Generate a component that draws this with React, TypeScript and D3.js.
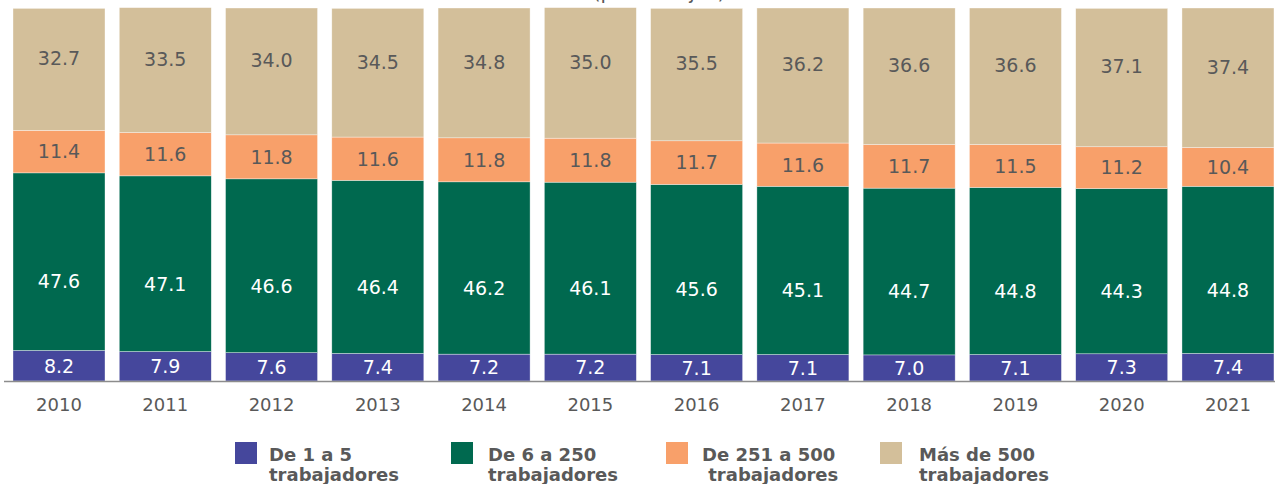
import React from "react";
import * as d3 from "d3";

const years = ["2010","2011","2012","2013","2014","2015","2016","2017","2018","2019","2020","2021"];
const de1a5 = [8.2, 7.9, 7.6, 7.4, 7.2, 7.2, 7.1, 7.1, 7.0, 7.1, 7.3, 7.4];
const de6a250 = [47.6, 47.1, 46.6, 46.4, 46.2, 46.1, 45.6, 45.1, 44.7, 44.8, 44.3, 44.8];
const de251a500 = [11.4, 11.6, 11.8, 11.6, 11.8, 11.8, 11.7, 11.6, 11.7, 11.5, 11.2, 10.4];
const mas500 = [32.7, 33.5, 34.0, 34.5, 34.8, 35.0, 35.5, 36.2, 36.6, 36.6, 37.1, 37.4];

const seriesNames = ["De 1 a 5 trabajadores", "De 6 a 250 trabajadores", "De 251 a 500 trabajadores", "Más de 500 trabajadores"];
const legendLine1 = ["De 1 a 5", "De 6 a 250", "De 251 a 500", "Más de 500"];
const legendLine2 = ["trabajadores", "trabajadores", "\u00a0trabajadores", "trabajadores"];
const title = "(porcentajes)";

const colors = ["#45479c", "#00694f", "#f8a06a", "#d3bf9a"];
const labelColors = ["#ffffff", "#ffffff", "#595959", "#595959"];
const labelOffsets = [0, 20, 0, -11];

const W = 1284, H = 484;
const FONT = "'DejaVu Sans', sans-serif";

export default function App() {
  const keys = ["a", "b", "c", "d"];
  const rows = years.map((y, i) => ({
    year: y,
    a: de1a5[i],
    b: de6a250[i],
    c: de251a500[i],
    d: mas500[i],
  }));
  const stack = d3.stack<any>().keys(keys)(rows);

  const x = d3
    .scaleBand<string>()
    .domain(years)
    .range([5.87, 1281.1])
    .paddingInner(0.1343)
    .paddingOuter(0.0671);
  const y = d3.scaleLinear().domain([0, 100]).range([381, 8]);
  const fmt = d3.format(".1f");

  const legendSquareX = [235, 451, 666, 880];
  const legendTextX = [269, 488, 702, 919];

  return (
    <svg
      width={W}
      height={H}
      style={{ position: "absolute", left: 0, top: 0, background: "#fff" }}
      fontFamily={FONT}
    >
      <text x={659} y={-1} textAnchor="middle" fontSize={20} fill="#595959">
        {title}
      </text>
      {stack.map((s, si) => (
        <g key={si} fill={colors[si]}>
          {s.map((d: any, i: number) => (
            <rect
              key={i}
              x={x(years[i])}
              width={x.bandwidth()}
              y={y(d[1])}
              height={y(d[0]) - y(d[1])}
              stroke="#ffffff"
              strokeWidth={0.6}
              strokeOpacity={0.6}
            />
          ))}
        </g>
      ))}
      {stack.map((s, si) => (
        <g key={"l" + si} fill={labelColors[si]} fontSize={19} textAnchor="middle">
          {s.map((d: any, i: number) => (
            <text
              key={i}
              x={(x(years[i]) as number) + x.bandwidth() / 2}
              y={(y(d[0]) + y(d[1])) / 2 + labelOffsets[si]}
              dy="0.36em"
            >
              {fmt(d[1] - d[0])}
            </text>
          ))}
        </g>
      ))}
      <line x1={4} x2={1275} y1={381.5} y2={381.5} stroke="#8c8c8c" strokeWidth={1.5} />
      <g fontSize={18} fill="#595959" textAnchor="middle">
        {years.map((yr) => (
          <text key={yr} x={(x(yr) as number) + x.bandwidth() / 2} y={411}>
            {yr}
          </text>
        ))}
      </g>
      <g>
        {seriesNames.map((n, i) => (
          <g key={n}>
            <rect x={legendSquareX[i]} y={442} width={22} height={22} fill={colors[i]} />
            <text x={legendTextX[i]} y={461} fontSize={18} fontWeight="bold" fill="#595959">
              {legendLine1[i]}
            </text>
            <text x={legendTextX[i]} y={481} fontSize={18} fontWeight="bold" fill="#595959">
              {legendLine2[i]}
            </text>
          </g>
        ))}
      </g>
    </svg>
  );
}
